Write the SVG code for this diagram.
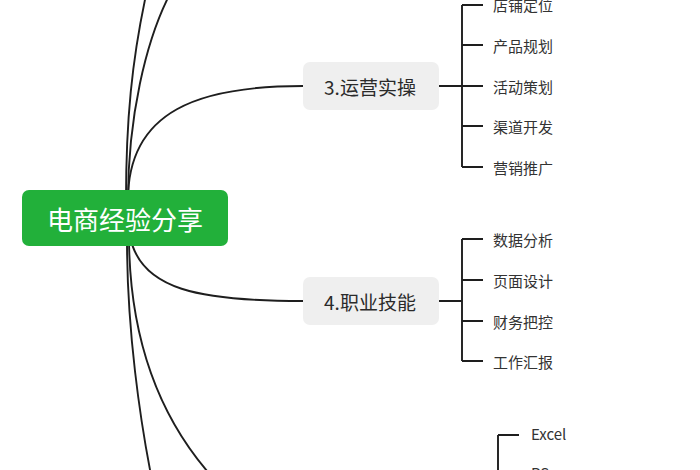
<svg xmlns="http://www.w3.org/2000/svg" width="700" height="470" viewBox="0 0 700 470">
<style>
.c{fill:none;stroke:#1e1e1e;stroke-width:1.9}
.b{fill:none;stroke:#1e1e1e;stroke-width:1.9}
.root{fill:#22b03a}
.sub{fill:#efefef}
.rt{font-family:"Noto Sans CJK SC","Noto Sans",sans-serif;font-size:26px;fill:#ffffff;text-anchor:middle;dominant-baseline:central}
.st{font-family:"Noto Sans CJK SC","Noto Sans",sans-serif;font-size:19px;fill:#2a2a2a;text-anchor:middle;dominant-baseline:central}
.lt{font-family:"Noto Sans CJK SC","Noto Sans",sans-serif;font-size:15px;fill:#333333;dominant-baseline:central}
</style>
<rect width="700" height="470" fill="#ffffff"/>
<g id="connectors">
<path class="c" d="M126,200 C126,120 132,60 146,-5"/>
<path class="c" d="M128,200 C128,120 145,40 172,-10"/>
<path class="c" d="M128,200 C128,110 200,86 303,86"/>
<path class="c" d="M130,236 C140,290 200,301 303,301"/>
<path class="c" d="M127,240 C127,330 140,420 152,480"/>
<path class="c" d="M129,240 C130,340 160,420 215,480"/>
<path class="b" d="M439,86 H462 M462,5 V167 M462,5 H483 M462,45 H483 M462,86 H483 M462,126 H483 M462,167 H483"/>
<path class="b" d="M439,301 H462 M462,239 V361 M462,239 H483 M462,280 H483 M462,321 H483 M462,361 H483"/>
<path class="b" d="M498,435 V480 M498,435 H519 M498,476 H519"/>
</g>
<g id="root">
<rect class="root" x="22" y="190" width="206" height="56" rx="7"/>
<text class="rt" x="125" y="218">电商经验分享</text>
</g>
<g id="node3">
<rect class="sub" x="303" y="62" width="136" height="48" rx="7"/>
<text class="st" x="370" y="86">3.运营实操</text>
</g>
<g id="node4">
<rect class="sub" x="303" y="277" width="136" height="48" rx="7"/>
<text class="st" x="370" y="301">4.职业技能</text>
</g>
<g id="leaf3-1"><text class="lt" x="493" y="4">店铺定位</text></g>
<g id="leaf3-2"><text class="lt" x="493" y="45">产品规划</text></g>
<g id="leaf3-3"><text class="lt" x="493" y="86">活动策划</text></g>
<g id="leaf3-4"><text class="lt" x="493" y="126">渠道开发</text></g>
<g id="leaf3-5"><text class="lt" x="493" y="167">营销推广</text></g>
<g id="leaf4-1"><text class="lt" x="493" y="239">数据分析</text></g>
<g id="leaf4-2"><text class="lt" x="493" y="280">页面设计</text></g>
<g id="leaf4-3"><text class="lt" x="493" y="321">财务把控</text></g>
<g id="leaf4-4"><text class="lt" x="493" y="361">工作汇报</text></g>
<g id="leaf5-1"><text class="lt" x="531" y="433">Excel</text></g>
<g id="leaf5-2"><text class="lt" x="531" y="472">PS</text></g>
</svg>
